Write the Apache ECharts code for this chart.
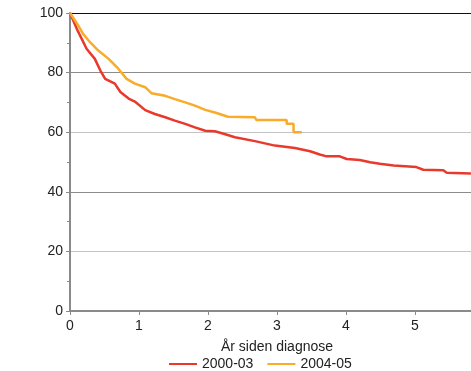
<!DOCTYPE html>
<html>
<head>
<meta charset="utf-8">
<script src="https://cdn.jsdelivr.net/npm/echarts@6/dist/echarts.min.js"></script>
<style>
  html, body { margin: 0; padding: 0; background: #fff; }
  #chart { width: 471px; height: 371px; }
</style>
</head>
<body>
<div id="chart"></div>
<script>
// survival curves (years since diagnosis, percent)
const yearsA  = [0, 0.1, 0.17, 0.24, 0.36, 0.44, 0.51, 0.65, 0.73, 0.85, 0.94, 1.09, 1.23, 1.38, 1.52, 1.67, 1.81, 1.96, 2.1, 2.25, 2.39, 2.68, 2.97, 3.26, 3.48, 3.62, 3.72, 3.91, 4.01, 4.2, 4.35, 4.49, 4.69, 5.02, 5.12, 5.41, 5.46, 5.81];
const valuesA = [100, 94.6, 91.3, 88, 84.6, 80.7, 77.9, 76.3, 73.5, 71.3, 70.3, 67.4, 66.1, 65, 63.9, 62.8, 61.6, 60.5, 60.3, 59.3, 58.3, 57, 55.5, 54.7, 53.6, 52.5, 51.9, 51.9, 51, 50.7, 49.9, 49.4, 48.8, 48.3, 47.4, 47.2, 46.4, 46.1];

const yearsB  = [0, 0.12, 0.19, 0.29, 0.41, 0.56, 0.7, 0.82, 0.94, 1.09, 1.18, 1.38, 1.52, 1.67, 1.81, 1.96, 2.1, 2.29, 2.68, 2.7, 3.14, 3.14, 3.24, 3.24, 3.36];
const valuesB = [100, 95.8, 93, 90.2, 87.4, 84.6, 81.3, 77.9, 76.3, 75.1, 73.1, 72.2, 71.1, 70, 68.9, 67.5, 66.6, 65.2, 65, 64.1, 64.1, 62.8, 62.8, 60, 60];

const seriesNames = ['2000-03', '2004-05'];
const xTitle = 'År siden diagnose';

const FONT = '"Liberation Sans", Arial, sans-serif';
const RED = '#e8392c';
const ORANGE = '#f9ab2a';
const AXIS_GREY = '#8a8a8a';

const zip = (xs, ys) => xs.map((x, i) => [x, ys[i]]);

const chart = echarts.init(document.getElementById('chart'), null, { renderer: 'canvas' });
chart.setOption({
  animation: false,
  backgroundColor: '#fff',
  textStyle: { fontFamily: FONT },
  // plot runs past the right edge of the picture, like the cropped original
  grid: { left: 70, top: 13, width: 414, height: 298, outerBoundsMode: 'none', containLabel: false },
  legend: {
    left: 164, top: 352,
    icon: 'rect', itemWidth: 28, itemHeight: 2, itemGap: 14,
    textStyle: { fontFamily: FONT, fontSize: 14, color: '#222' },
    data: seriesNames,
  },
  xAxis: [{
    type: 'value', min: 0, max: 6, interval: 1,
    name: xTitle, nameLocation: 'middle', nameGap: 29,
    nameTextStyle: { fontFamily: FONT, fontSize: 14, color: '#222' },
    axisLine: { show: true, lineStyle: { color: AXIS_GREY, width: 2 } },
    axisTick: { show: true, length: 4, lineStyle: { color: AXIS_GREY } },
    axisLabel: { fontFamily: FONT, fontSize: 14, color: '#222', margin: 8, showMaxLabel: false },
    splitLine: { show: false },
  }, {
    type: 'value', min: 0, max: 6, position: 'top',
    axisLine: { show: true, onZero: false, lineStyle: { color: '#111', width: 1 } },
    axisTick: { show: false }, axisLabel: { show: false }, splitLine: { show: false },
  }],
  yAxis: {
    type: 'value', min: 0, max: 100, interval: 20,
    axisLine: { show: true, lineStyle: { color: AXIS_GREY, width: 2 } },
    axisTick: { show: true, length: 4, lineStyle: { color: AXIS_GREY } },
    minorTick: { show: true, splitNumber: 2, length: 3, lineStyle: { color: AXIS_GREY } },
    axisLabel: { fontFamily: FONT, fontSize: 14, color: '#222', margin: 7 },
    splitLine: { show: true, lineStyle: { color: ['#8c8c8c', '#c4c4c4'], width: 1 } },
  },
  series: [{
    name: seriesNames[0], type: 'line', data: zip(yearsA, valuesA),
    symbol: 'none', lineStyle: { color: RED, width: 2.5 }, itemStyle: { color: RED },
  }, {
    name: seriesNames[1], type: 'line', data: zip(yearsB, valuesB),
    symbol: 'none', lineStyle: { color: ORANGE, width: 2.5 }, itemStyle: { color: ORANGE },
  }],
});
</script>
</body>
</html>
